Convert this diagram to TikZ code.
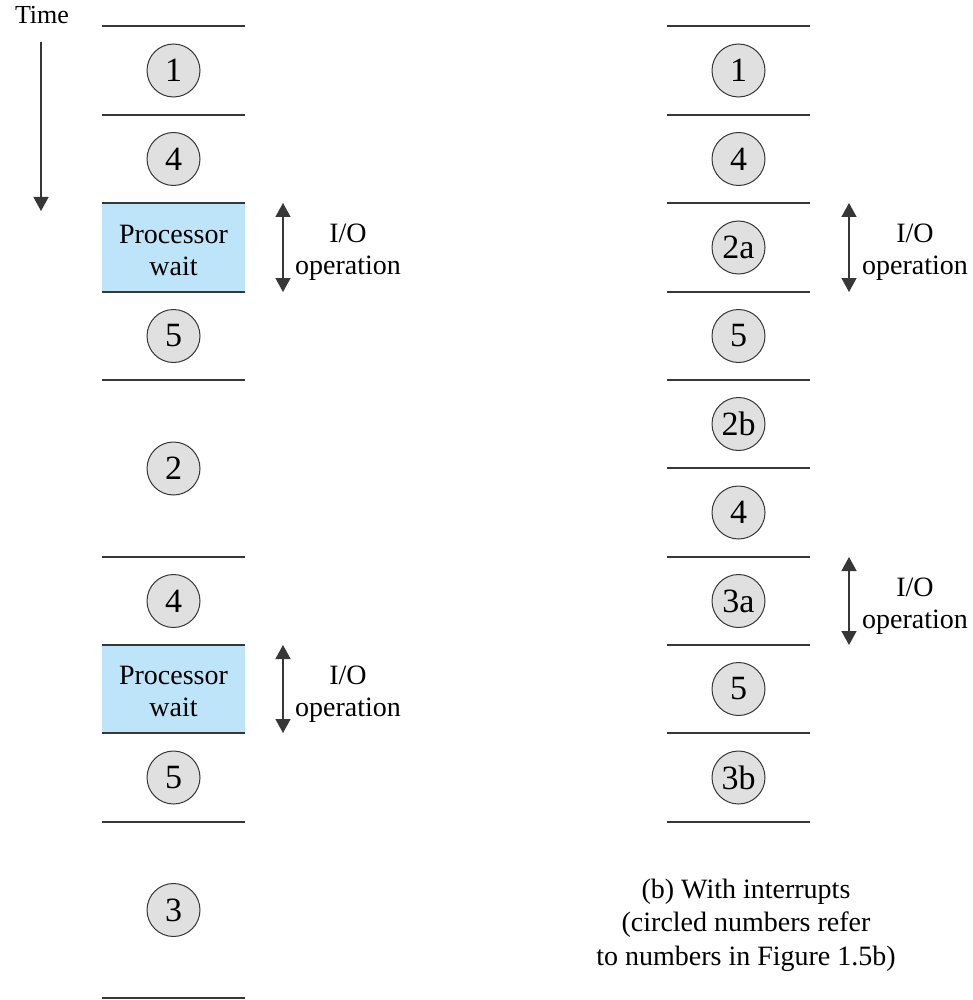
\documentclass[tikz,border=0pt]{standalone}
\usepackage{fontspec}
\setmainfont{Liberation Serif}
\usetikzlibrary{arrows.meta}
\definecolor{linegray}{RGB}{55,55,55}
\definecolor{waitblue}{RGB}{190,228,249}
\definecolor{circfill}{RGB}{224,224,224}
\tikzset{
  sep/.style={draw=linegray, line width=1.6pt},
  num/.style={circle, draw=linegray, line width=1pt, fill=circfill, minimum size=53pt, inner sep=0pt, font=\fontsize{34}{36}\selectfont},
  lbl/.style={align=center, font=\fontsize{28}{32}\selectfont, inner sep=0pt},
  waitbox/.style={fill=waitblue},
  ioarrow/.style={draw=linegray, line width=1.4pt, {Triangle[width=15pt,length=14pt]}-{Triangle[width=15pt,length=14pt]}},
  timearrow/.style={draw=linegray, line width=1.4pt, -{Triangle[width=15pt,length=14pt]}}
}
\begin{document}
\begin{tikzpicture}[x=1pt,y=-1pt]
\useasboundingbox (0,0) rectangle (973,1000);
% Time
\node[lbl, font=\fontsize{26}{28}\selectfont] (time) at (42,15) {Time};
\coordinate (ts) at (41,42);
\coordinate (te) at (41,211);
\draw[timearrow] (ts) -- (te);
% left column: processor wait boxes
\fill[waitbox] (102,203) rectangle (245,292);
\fill[waitbox] (102,645) rectangle (245,733);
\foreach \y in {26,115,203,292,380,557,645,733,822,998}
  \draw[sep] (102,\y) -- (245,\y);
\node[num] (l1) at (173.5,70.5) {1};
\node[num] (l4a) at (173.5,159) {4};
\node[lbl] (lw1) at (173.5,250) {Processor\\wait};
\node[num] (l5a) at (173.5,336) {5};
\node[num] (l2) at (173.5,468.5) {2};
\node[num] (l4b) at (173.5,601) {4};
\node[lbl] (lw2) at (173.5,691.5) {Processor\\wait};
\node[num] (l5b) at (173.5,777.5) {5};
\node[num] (l3) at (173.5,910) {3};
% left I/O arrows
\coordinate (la1t) at (283,203);
\coordinate (la1b) at (283,292);
\draw[ioarrow] (la1t) -- (la1b);
\node[lbl] (lio1) at (348,252) {I/O\\operation};
\coordinate (la2t) at (283,645);
\coordinate (la2b) at (283,733);
\draw[ioarrow] (la2t) -- (la2b);
\node[lbl] (lio2) at (348,694) {I/O\\operation};
% right column
\foreach \y in {26,115,203,292,380,468,557,645,733,822}
  \draw[sep] (667,\y) -- (810,\y);
\node[num] (r1) at (738.5,70.5) {1};
\node[num] (r4a) at (738.5,159) {4};
\node[num] (r2a) at (738.5,247.5) {2a};
\node[num] (r5a) at (738.5,336) {5};
\node[num] (r2b) at (738.5,424) {2b};
\node[num] (r4b) at (738.5,512.5) {4};
\node[num] (r3a) at (738.5,601) {3a};
\node[num] (r5b) at (738.5,689) {5};
\node[num] (r3b) at (738.5,777.5) {3b};
% right I/O arrows
\coordinate (ra1t) at (849,203);
\coordinate (ra1b) at (849,292);
\draw[ioarrow] (ra1t) -- (ra1b);
\node[lbl] (rio1) at (915,252) {I/O\\operation};
\coordinate (ra2t) at (849,557);
\coordinate (ra2b) at (849,645);
\draw[ioarrow] (ra2t) -- (ra2b);
\node[lbl] (rio2) at (915,606) {I/O\\operation};
% caption
\node[lbl, font=\fontsize{28}{33.5}\selectfont] (cap) at (746,925) {(b) With interrupts\\(circled numbers refer\\to numbers in Figure 1.5b)};
\end{tikzpicture}
\end{document}
